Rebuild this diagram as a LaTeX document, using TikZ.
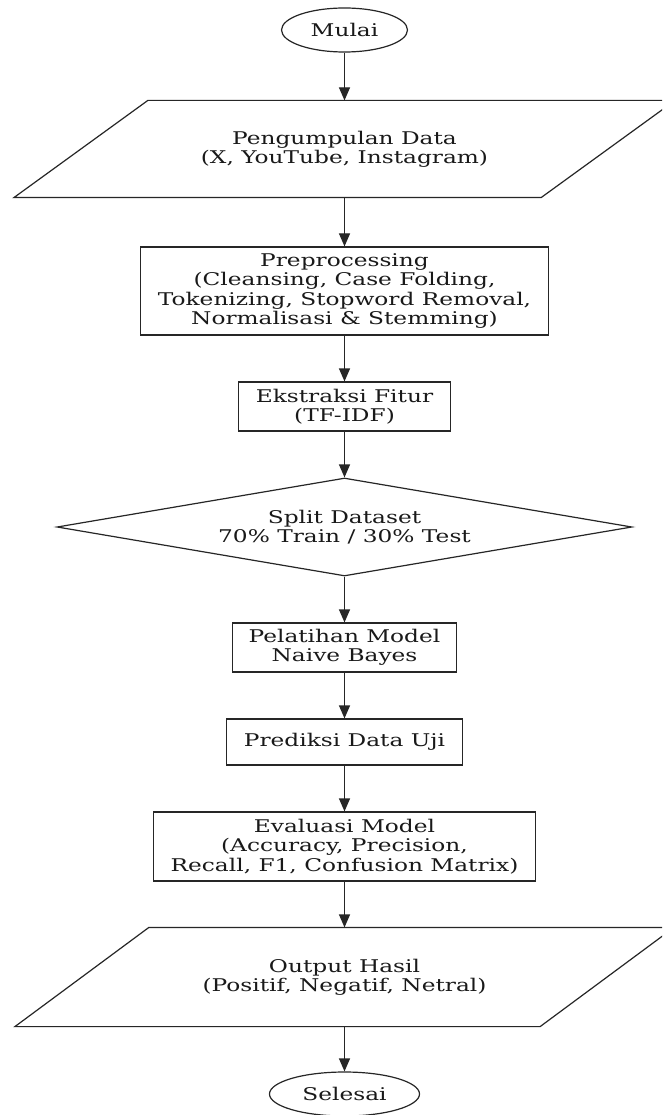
\documentclass[tikz,border=0pt]{standalone}
\usepackage{fontspec}
\setmainfont{DejaVu Serif}[FakeStretch=1.33]
\usetikzlibrary{shapes.geometric,arrows.meta}
\tikzset{
  base/.style={draw=black!85, line width=1.2pt, inner sep=0pt, align=center,
    font=\fontsize{17.5}{19.3}\selectfont, text=black!90},
  term/.style={base, ellipse},
  procbox/.style={base, rectangle},
  iobox/.style={base, draw=none, rectangle},
  decbox/.style={base, diamond},
  flow/.style={draw=black!85, line width=1.2pt, -{Triangle[length=13pt,width=11pt]}},
  slant/.style={draw=black!85, line width=1.2pt, line join=miter}
}
\begin{document}
\begin{tikzpicture}[x=1pt,y=-1pt]
\path[use as bounding box, clip] (0,0) rectangle (662,1115);
\fill[white] (0,0) rectangle (662,1115);
\def\cx{344.5}
\node[term, minimum width=126, minimum height=44] (start) at (\cx,30) {Mulai};
\node[iobox, minimum width=526, minimum height=96] (data) at (\cx,149)
  {Pengumpulan Data\\(X, YouTube, Instagram)};
\draw[slant] ([xshift=-67]data.south west) -- ([xshift=67]data.north west)
  -- ([xshift=67]data.north east) -- ([xshift=-67]data.south east) -- cycle;
\node[procbox, minimum width=408, minimum height=88] (pre) at (\cx,291)
  {Preprocessing\\(Cleansing, Case Folding,\\Tokenizing, Stopword Removal,\\Normalisasi \& Stemming)};
\node[procbox, minimum width=212, minimum height=49] (ext) at (\cx,406.5)
  {Ekstraksi Fitur\\(TF-IDF)};
\node[decbox, minimum width=575, minimum height=98, aspect=5.9] (split) at (\cx,527)
  {Split Dataset\\70\% Train / 30\% Test};
\node[procbox, minimum width=224, minimum height=49] (train) at (\cx,647.5)
  {Pelatihan Model\\Naive Bayes};
\node[procbox, minimum width=236, minimum height=46] (pred) at (\cx,742)
  {Prediksi Data Uji};
\node[procbox, minimum width=382, minimum height=69] (eval) at (\cx,846.5)
  {Evaluasi Model\\(Accuracy, Precision,\\Recall, F1, Confusion Matrix)};
\node[iobox, minimum width=524, minimum height=98] (out) at (\cx,977)
  {Output Hasil\\(Positif, Negatif, Netral)};
\draw[slant] ([xshift=-67]out.south west) -- ([xshift=67]out.north west)
  -- ([xshift=67]out.north east) -- ([xshift=-67]out.south east) -- cycle;
\node[term, minimum width=150, minimum height=44] (end) at (\cx,1094) {Selesai};

\draw[flow] (start.south) -- (data.north);
\draw[flow] (data.south) -- (pre.north);
\draw[flow] (pre.south) -- (ext.north);
\draw[flow] (ext.south) -- (split.north);
\draw[flow] (split.south) -- (train.north);
\draw[flow] (train.south) -- (pred.north);
\draw[flow] (pred.south) -- (eval.north);
\draw[flow] (eval.south) -- (out.north);
\draw[flow] (out.south) -- (end.north);
\end{tikzpicture}
\end{document}
